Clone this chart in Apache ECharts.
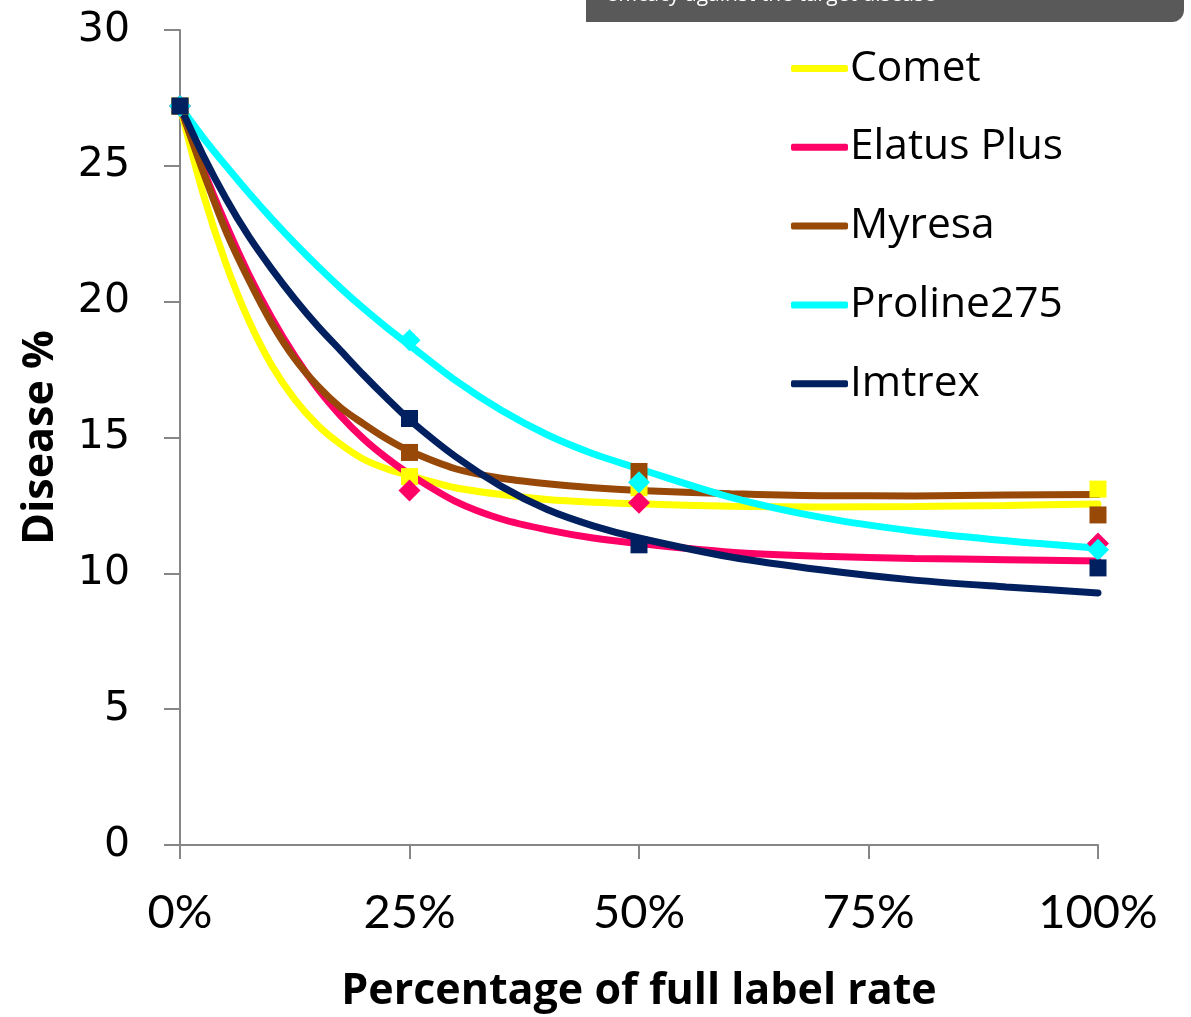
<!DOCTYPE html>
<html>
<head>
<meta charset="utf-8">
<script src="https://cdn.jsdelivr.net/npm/echarts@6/dist/echarts.min.js"></script>
<style>html,body{margin:0;padding:0;background:#fff;}#c{width:1191px;height:1017px;}</style>
</head>
<body>
<div id="c"></div>
<script>
// Series names
const seriesNames = ['Comet', 'Elatus Plus', 'Myresa', 'Proline275', 'Imtrex'];
// Measured points (x = % of full label rate)
const pointX = [0, 25, 50, 100];
const cometPts = [27.2, 13.56, 13.15, 13.1];
const elatusPts = [27.2, 13.05, 12.6, 11.1];
const myresaPts = [27.2, 14.45, 13.75, 12.15];
const prolinePts = [27.2, 18.58, 13.35, 10.87];
const imtrexPts = [27.2, 15.7, 11.05, 10.2];
// Trend curves, values
const curveX = [0, 2.5, 5, 7.5, 10, 12.5, 15, 17.5, 20, 22.5, 25, 30, 35, 40, 45, 50, 60, 70, 80, 90, 100];
const cometCurve = [27.2, 24.0, 21.4, 19.3, 17.65, 16.4, 15.45, 14.75, 14.2, 13.85, 13.6, 13.15, 12.9, 12.72, 12.62, 12.56, 12.47, 12.44, 12.46, 12.5, 12.55];
const elatusCurve = [27.2, 24.9, 22.85, 21.0, 19.4, 18.0, 16.8, 15.8, 14.95, 14.25, 13.65, 12.65, 12.0, 11.6, 11.3, 11.1, 10.78, 10.63, 10.55, 10.5, 10.45];
const myresaCurve = [27.2, 24.8, 22.6, 20.8, 19.2, 17.9, 16.9, 16.1, 15.5, 14.95, 14.5, 13.85, 13.5, 13.3, 13.15, 13.05, 12.93, 12.86, 12.85, 12.88, 12.9];
const prolineCurve = [27.2, 26.05, 25.0, 24.0, 23.05, 22.15, 21.3, 20.5, 19.75, 19.05, 18.4, 17.1, 16.0, 15.1, 14.4, 13.85, 12.8, 12.05, 11.55, 11.2, 10.93];
const imtrexCurve = [27.2, 25.4, 23.8, 22.4, 21.2, 20.1, 19.1, 18.2, 17.3, 16.45, 15.65, 14.3, 13.2, 12.35, 11.75, 11.3, 10.6, 10.12, 9.75, 9.5, 9.28];
// Axis ticks
const xTicks = [0, 25, 50, 75, 100];
const yTicks = [0, 5, 10, 15, 20, 25, 30];

const colors = ['#FFFF00', '#FF0066', '#984807', '#00FFFF', '#002060'];
const symbols = ['rect', 'diamond', 'rect', 'diamond', 'rect'];
const curves = [cometCurve, elatusCurve, myresaCurve, prolineCurve, imtrexCurve];
const pts = [cometPts, elatusPts, myresaPts, prolinePts, imtrexPts];

const zip = (xs, ys) => xs.map((x, i) => [x, ys[i]]);

const series = [];
seriesNames.forEach((n, i) => {
  series.push({
    name: n, type: 'line', data: zip(curveX, curves[i]), smooth: 0.3,
    showSymbol: false, symbol: 'none', lineStyle: { width: 7, color: colors[i], cap: 'round', opacity: 1 },
    itemStyle: { color: colors[i] }, z: 2
  });
});
seriesNames.forEach((n, i) => {
  series.push({
    name: n + ' points', type: 'scatter', data: zip(pointX, pts[i]),
    symbol: symbols[i], symbolSize: symbols[i] === 'rect' ? 17 : 22,
    itemStyle: { color: colors[i], opacity: 1 }, z: 3
  });
});

const chart = echarts.init(document.getElementById('c'), null, { renderer: 'canvas' });
chart.setOption({
  animation: false,
  backgroundColor: '#ffffff',
  grid: { left: 180, right: 93, top: 30, bottom: 172, containLabel: false, outerBoundsMode: 'none' },
  legend: {
    data: seriesNames, orient: 'vertical', left: 786, top: 42,
    itemWidth: 57, itemHeight: 7, itemGap: 35.8, icon: 'roundRect',
    textStyle: { fontFamily: 'Open Sans', fontSize: 42.5, color: '#000', lineHeight: 41, padding: [0, 0, 0, -3] },
    selectedMode: false
  },
  xAxis: {
    type: 'value', min: xTicks[0], max: xTicks[xTicks.length - 1], interval: 25,
    name: 'Percentage of full label rate', nameLocation: 'middle', nameGap: 125,
    nameTextStyle: { fontFamily: 'Open Sans', fontWeight: 'bold', fontSize: 43, color: '#000' },
    axisLine: { lineStyle: { color: '#868686', width: 2 } },
    axisTick: { show: true, length: 14, lineStyle: { color: '#868686', width: 2 } },
    axisLabel: { formatter: '{value}%', fontFamily: 'Lato', fontSize: 47, color: '#000', margin: 44 },
    splitLine: { show: false }
  },
  yAxis: {
    type: 'value', min: yTicks[0], max: yTicks[yTicks.length - 1], interval: 5,
    name: 'Disease %', nameLocation: 'middle', nameGap: 118,
    nameTextStyle: { fontFamily: 'Open Sans', fontWeight: 'bold', fontSize: 43, color: '#000' },
    axisLine: { show: true, lineStyle: { color: '#868686', width: 2 } },
    axisTick: { show: true, length: 16, lineStyle: { color: '#868686', width: 2 } },
    axisLabel: { fontFamily: 'DejaVu Sans', fontSize: 41, color: '#000', margin: 50 },
    splitLine: { show: false }
  },
  graphic: [
    { type: 'rect', left: 586, top: -12, shape: { width: 598, height: 34, r: [0, 0, 12, 0] }, style: { fill: '#595959' }, z: 10 },
    { type: 'text', left: 606, top: -15, style: { text: 'efficacy against the target disease', fill: '#ffffff', font: '21px "Open Sans"' }, z: 11 }
  ],
  series: series
});
</script>
</body>
</html>
